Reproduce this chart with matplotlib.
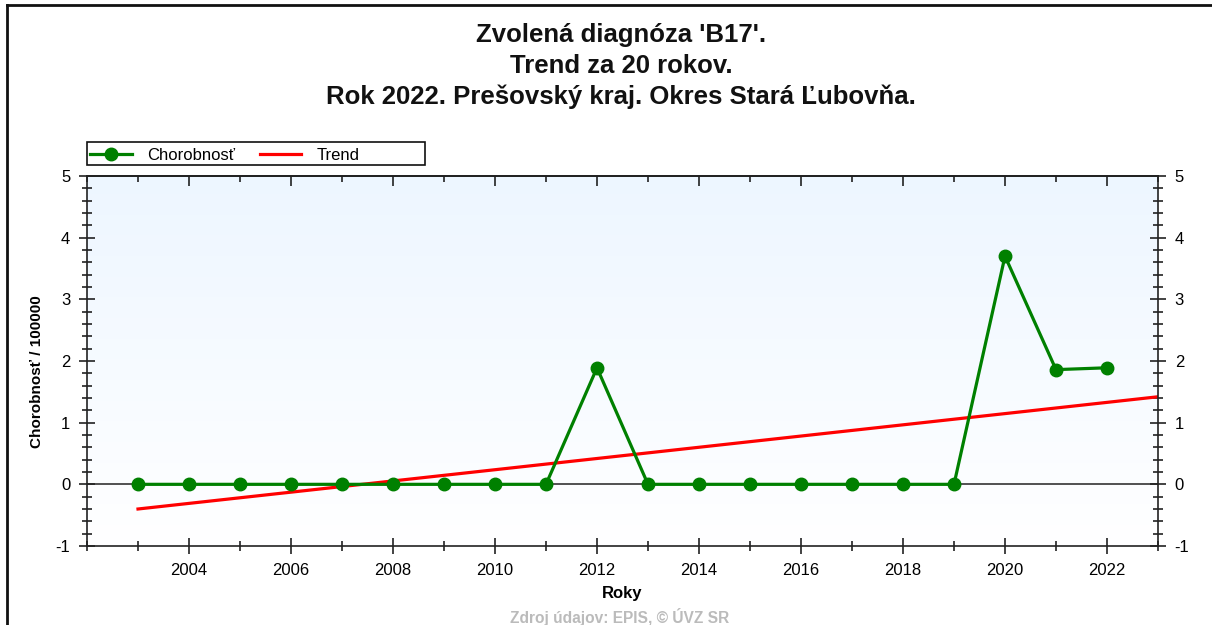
import numpy as np
import matplotlib.pyplot as plt
from matplotlib.lines import Line2D
from matplotlib.patches import Rectangle
from matplotlib.ticker import MultipleLocator

plt.rcParams['font.family'] = ['Liberation Sans', 'DejaVu Sans']
plt.rcParams['axes.unicode_minus'] = False

# data
roky = [2003, 2004, 2005, 2006, 2007, 2008, 2009, 2010, 2011, 2012,
        2013, 2014, 2015, 2016, 2017, 2018, 2019, 2020, 2021, 2022]
chorobnost = [0, 0, 0, 0, 0, 0, 0, 0, 0, 1.89,
              0, 0, 0, 0, 0, 0, 0, 3.70, 1.86, 1.89]
trend_roky = [2003, 2023]
trend_hodnoty = [-0.40, 1.42]
popisy_x = [2004, 2006, 2008, 2010, 2012, 2014, 2016, 2018, 2020, 2022]

tituly = ["Zvolená diagnóza 'B17'.", "Trend za 20 rokov.",
          "Rok 2022. Prešovský kraj. Okres Stará Ľubovňa."]

W, H = 1212, 625
fig = plt.figure(figsize=(W / 100, H / 100), dpi=100)
ax = fig.add_axes([87 / W, 1 - 546 / H, (1158 - 87) / W, (546 - 176) / H])

# light blue gradient background
grad = np.linspace(1, 0, 256).reshape(-1, 1)
top_c = np.array([0.93, 0.965, 1.0])
bot_c = np.array([1.0, 1.0, 1.0])
img = bot_c + (top_c - bot_c) * grad[..., None]
ax.imshow(img, extent=[0, 1, 0, 1], transform=ax.transAxes, aspect='auto', zorder=0)

ax.axhline(0, color='#333333', lw=1.2, zorder=1)
ax.plot(trend_roky, trend_hodnoty, color='#ff0000', lw=2.3, zorder=2, label='Trend')
ax.plot(roky, chorobnost, color='#008000', lw=2.3, marker='o', ms=9,
        zorder=3, label='Chorobnosť')

ax.set_xlim(2002, 2023)
ax.set_ylim(-1, 5)
ax.set_xticks(popisy_x)
ax.xaxis.set_minor_locator(MultipleLocator(1))
ax.yaxis.set_major_locator(MultipleLocator(1))
ax.yaxis.set_minor_locator(MultipleLocator(0.2))

for s in ax.spines.values():
    s.set_color('#222222')
    s.set_linewidth(1.2)

ax.tick_params(axis='y', which='major', direction='inout', length=12, width=1.2,
               left=True, right=True, labelleft=True, labelright=True,
               labelsize=12, pad=6, color='#222222')
ax.tick_params(axis='y', which='minor', direction='inout', length=7, width=1.2,
               left=True, right=True, color='#222222')
ax.tick_params(axis='x', which='major', direction='inout', length=12, width=1.2,
               bottom=True, top=False, labelsize=12, pad=6, color='#222222')
ax.tick_params(axis='x', which='minor', direction='inout', length=7, width=1.2,
               bottom=True, top=False, color='#222222')

# top axis: ticks pointing inward only
top = ax.secondary_xaxis('top')
top.set_xticks(popisy_x)
top.xaxis.set_minor_locator(MultipleLocator(1))
top.tick_params(which='major', direction='in', length=7, width=1.2,
                labeltop=False, color='#222222')
top.tick_params(which='minor', direction='in', length=4, width=1.2, color='#222222')
top.spines['top'].set_linewidth(1.2)

ax.set_ylabel('Chorobnosť / 100000', fontsize=11, fontweight='bold')
ax.yaxis.set_label_coords(-(87 - 44) / 1071, 0.5 - 11 / 370)
ax.set_xlabel('Roky', fontsize=12, fontweight='bold', labelpad=6)

for t, y in zip(tituly, [35, 66, 97]):
    fig.text(621 / W, 1 - y / H, t, ha='center', va='center',
             fontsize=18.5, fontweight='bold', color='#111111')

fig.text(620 / W, 1 - 617 / H, 'Zdroj údajov: EPIS, © ÚVZ SR', ha='center',
         va='center', fontsize=11.2, fontweight='bold', color='#bbbbbb')

# legend: box drawn separately so it keeps the wide frame of the original
h, l = ax.get_legend_handles_labels()
leg = fig.legend(h[::-1], l[::-1], loc='center left', ncol=2,
                 bbox_to_anchor=(90 / W, 1 - 155 / H),
                 fontsize=12, frameon=False, borderpad=0, handlelength=2.5,
                 columnspacing=1.5, handletextpad=0.9, borderaxespad=0)
fig.add_artist(Rectangle((87 / W, 1 - 165 / H), (425 - 87) / W, 23 / H,
                         transform=fig.transFigure, fill=False,
                         edgecolor='#111111', lw=1.2))

# outer frame (left and top edges)
fig.add_artist(Line2D([7 / W, 7 / W], [0, 1 - 5 / H], transform=fig.transFigure,
                      color='#111111', lw=2))
fig.add_artist(Line2D([7 / W, 1], [1 - 5 / H, 1 - 5 / H], transform=fig.transFigure,
                      color='#111111', lw=2))

fig.savefig('out.png', dpi=100)
